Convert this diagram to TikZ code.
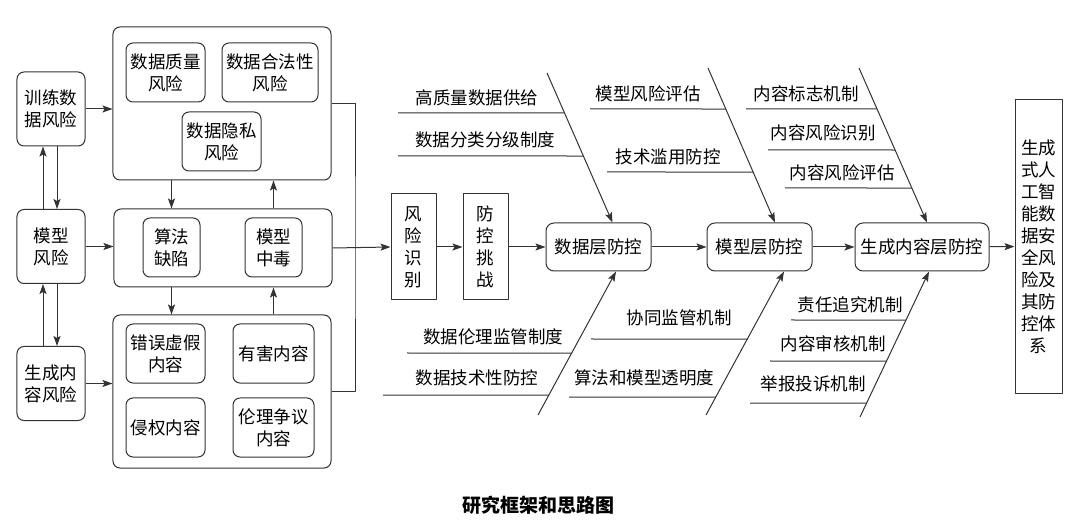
\documentclass[tikz,border=0pt]{standalone}
\usepackage{fontspec}
\setmainfont{Noto Sans CJK SC}
\usetikzlibrary{arrows.meta}
\definecolor{strokecol}{rgb}{0.2,0.2,0.2}
\begin{document}
\begin{tikzpicture}[x=1bp,y=-1bp,>={Stealth[length=10bp,width=7bp,inset=2bp]},line join=bevel,
  every node/.style={font=\fontsize{17.5bp}{22bp}\selectfont,align=center,inner sep=0pt},
  riskbox/.style={draw,rounded corners=7bp,minimum width=68bp,minimum height=74bp},
  groupbox/.style={draw,rounded corners=7bp,minimum width=218bp},
  itembox/.style={draw,rounded corners=7bp,minimum height=59bp},
  stagebox/.style={draw,minimum width=45bp,minimum height=106bp},
  layerbox/.style={draw,rounded corners=8bp,minimum height=48bp},
  goalbox/.style={draw,minimum width=47bp,minimum height=293bp}]
  \pgfsetlinewidth{1bp}
  \pgfsetcolor{strokecol}
  \useasboundingbox (0,0) rectangle (1080,529);
%%
  % Node: train
  \node[riskbox] (train) at (51,109) {训练数\\据风险};
  % Node: model
  \node[riskbox] (model) at (51,246.5) {模型\\风险};
  % Node: content
  \node[riskbox] (content) at (51,383.5) {生成内\\容风险};
  % Node: datagrp
  \node[groupbox,minimum height=153bp] (datagrp) at (222,103.5) {};
  \node[itembox,minimum width=79bp] (quality) at (165.5,72.5) {数据质量\\风险};
  \node[itembox,minimum width=96bp] (legal) at (270,72.5) {数据合法性\\风险};
  \node[itembox,minimum width=79bp] (privacy) at (221.5,141.5) {数据隐私\\风险};
  % Node: modelgrp
  \node[groupbox,minimum height=78bp] (modelgrp) at (223,248) {};
  \node[itembox,minimum width=57bp] (flaw) at (171.5,247.5) {算法\\缺陷};
  \node[itembox,minimum width=57bp] (poison) at (273.5,247.5) {模型\\中毒};
  % Node: contentgrp
  \node[groupbox,minimum height=153bp] (contentgrp) at (222,391.5) {};
  \node[itembox,minimum width=79bp] (fake) at (165.5,353.5) {错误虚假\\内容};
  \node[itembox,minimum width=81bp] (harm) at (273.5,353.5) {有害内容};
  \node[itembox,minimum width=79bp] (infringe) at (165.5,427.5) {侵权内容};
  \node[itembox,minimum width=81bp] (ethic) at (273.5,427.5) {伦理争议\\内容};
  % Node: riskid
  \node[stagebox] (riskid) at (413.5,247) {风\\险\\识\\别};
  % Node: challenge
  \node[stagebox] (challenge) at (485.5,247) {防\\控\\挑\\战};
  % Node: datalayer
  \node[layerbox,minimum width=105bp] (datalayer) at (598.5,247) {数据层防控};
  % Node: modellayer
  \node[layerbox,minimum width=105bp] (modellayer) at (759.5,247) {模型层防控};
  % Node: contentlayer
  \node[layerbox,minimum width=134bp] (contentlayer) at (922,247) {生成内容层防控};
  % Node: goal
  \node[goalbox] (goal) at (1038.5,246.5) {生成\\式人\\工智\\能数\\据安\\全风\\险及\\其防\\控体\\系};
%%
  % Edge: train -> datagrp
  \draw [->] (train.east) -- (train.east -| datagrp.west);
  % Edge: model -> modelgrp
  \draw [->] (model.east) -- (model.east -| modelgrp.west);
  % Edge: content -> contentgrp
  \draw [->] (content.east) -- (content.east -| contentgrp.west);
  % Edge: model -> train, train -> model
  \draw [->] ([xshift=-8bp]model.north) -- ([xshift=-8bp]train.south);
  \draw [->] ([xshift=6bp]train.south) -- ([xshift=6bp]model.north);
  % Edge: content -> model, model -> content
  \draw [->] ([xshift=-8bp]content.north) -- ([xshift=-8bp]model.south);
  \draw [->] ([xshift=6bp]model.south) -- ([xshift=6bp]content.north);
  % Edge: datagrp -> modelgrp, modelgrp -> datagrp
  \draw [->] (datagrp.south -| flaw) -- (modelgrp.north -| flaw);
  \draw [->] (modelgrp.north -| poison) -- (datagrp.south -| poison);
  % Edge: modelgrp -> contentgrp, contentgrp -> modelgrp
  \draw [->] (modelgrp.south -| flaw) -- (contentgrp.north -| flaw);
  \draw [->] (contentgrp.north -| poison) -- (modelgrp.south -| poison);
  % Edge: datagrp, contentgrp -> riskid
  \coordinate (join) at (355,248);
  \draw (datagrp.east) -| (join) |- (contentgrp.east);
  \draw [->] (modelgrp.east) -- (riskid.west);
  % Edge: riskid -> challenge -> datalayer -> modellayer -> contentlayer -> goal
  \draw [->] (riskid) -- (challenge);
  \draw [->] (challenge) -- (datalayer);
  \draw [->] (datalayer) -- (modellayer);
  \draw [->] (modellayer) -- (contentlayer);
  \draw [->] (contentlayer) -- (goal);
%%
  % Bone: datalayer, top
  \coordinate (d1s) at (547,73);
  \coordinate (d1t) at ([xshift=14bp]datalayer.north);
  \draw [->] (d1s) -- (d1t);
  \draw (398,113) -- (intersection of d1s--d1t and 398,113--500,113);
  \draw (398,156) -- (intersection of d1s--d1t and 398,156--500,156);
  \node (supply) at (477,98) {高质量数据供给};
  \node (grading) at (485,140) {数据分类分级制度};
  % Bone: modellayer, top
  \coordinate (d2s) at (708,68);
  \coordinate (d2t) at ([xshift=15.5bp]modellayer.north);
  \draw [->] (d2s) -- (d2t);
  \draw (590,109) -- (intersection of d2s--d2t and 590,109--650,109);
  \draw (607,172) -- (intersection of d2s--d2t and 607,172--650,172);
  \node (assess) at (648,94) {模型风险评估};
  \node (abuse) at (668,157) {技术滥用防控};
  % Bone: contentlayer, top
  \coordinate (d3s) at (859,68);
  \coordinate (d3t) at ([xshift=5bp]contentlayer.north);
  \draw [->] (d3s) -- (d3t);
  \draw (746,109) -- (intersection of d3s--d3t and 746,109--800,109);
  \draw (768,150) -- (intersection of d3s--d3t and 768,150--800,150);
  \draw (785,188) -- (intersection of d3s--d3t and 785,188--800,188);
  \node (marking) at (806,94) {内容标志机制};
  \node (identify) at (823,133) {内容风险识别};
  \node (evaluate) at (842,173) {内容风险评估};
  % Bone: datalayer, bottom
  \coordinate (d4s) at (538,415);
  \coordinate (d4t) at ([xshift=17.5bp]datalayer.south);
  \draw [->] (d4s) -- (d4t);
  \draw (407,353) -- (intersection of d4s--d4t and 407,353--500,353);
  \draw (383,395) -- (intersection of d4s--d4t and 383,395--500,395);
  \node (ethics) at (493,337) {数据伦理监管制度};
  \node (techctl) at (477,378) {数据技术性防控};
  % Bone: modellayer, bottom
  \coordinate (d5s) at (706,415);
  \coordinate (d5t) at ([xshift=24.5bp]modellayer.south);
  \draw [->] (d5s) -- (d5t);
  \draw (591,339) -- (intersection of d5s--d5t and 591,339--650,339);
  \draw (569,397) -- (intersection of d5s--d5t and 569,397--650,397);
  \node (cosuper) at (679,318) {协同监管机制};
  \node (transp) at (644,378) {算法和模型透明度};
  % Bone: contentlayer, bottom
  \coordinate (d6s) at (860,417);
  \coordinate (d6t) at ([xshift=7bp]contentlayer.south);
  \draw [->] (d6s) -- (d6t);
  \draw (791,320) -- (intersection of d6s--d6t and 791,320--850,320);
  \draw (770,361) -- (intersection of d6s--d6t and 770,361--850,361);
  \draw (750,403) -- (intersection of d6s--d6t and 750,403--850,403);
  \node (account) at (850,305) {责任追究机制};
  \node (review) at (833,344) {内容审核机制};
  \node (report) at (813,384) {举报投诉机制};
%%
  % Node: caption
  \node [font=\fontsize{19bp}{22bp}\selectfont\bfseries,text=black] (caption) at (538,505) {研究框架和思路图};
%
\end{tikzpicture}
\end{document}
